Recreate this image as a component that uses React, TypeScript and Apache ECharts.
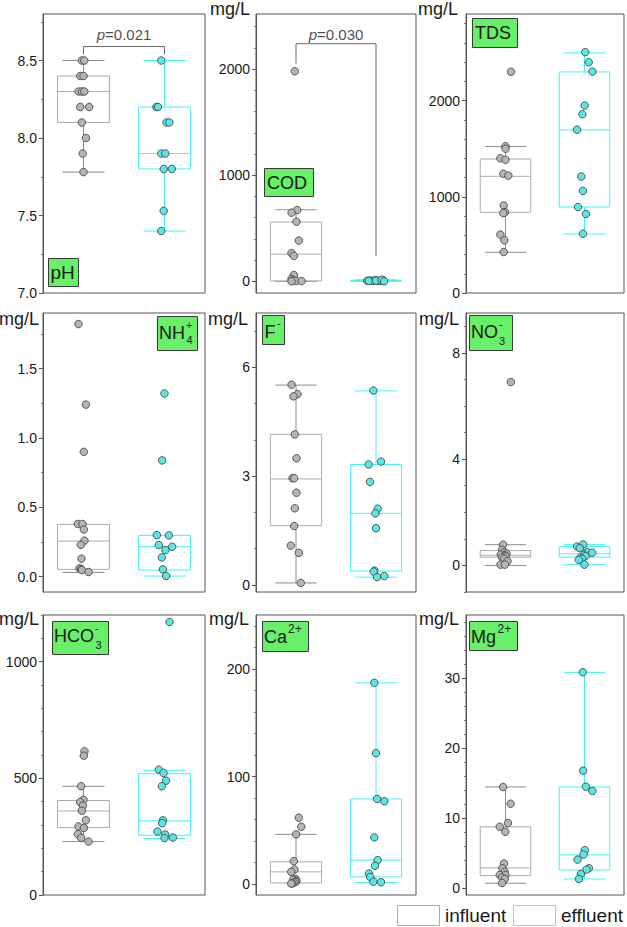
import React, { useEffect, useRef } from 'react';
import * as echarts from 'echarts';

const FONT = '"Liberation Sans", Arial, Helvetica, sans-serif';

// ---------- data ----------
// pH
const phIn = [8.5, 8.5, 8.4, 8.4, 8.3, 8.3, 8.3, 8.2, 8.2, 8.1, 8.0, 7.9, 7.78];
const phInJit = [-0.02, 0.01, -0.04, 0, -0.06, -0.02, 0.01, -0.04, 0.07, -0.02, 0.03, -0.01, 0];
const phEf = [8.5, 8.2, 8.2, 8.1, 8.1, 7.9, 7.9, 7.8, 7.8, 7.53, 7.4];
const phEfJit = [-0.04, -0.1, -0.08, 0.025, 0.06, -0.04, 0.01, -0.01, 0.09, -0.01, -0.04];
const phInBox = [7.78, 8.1, 8.3, 8.4, 8.5];
const phEfBox = [7.4, 7.8, 7.9, 8.2, 8.5];
// COD
const codIn = [1980, 672, 647, 562, 384, 266, 240, 59, 22, 8, 4, 2, 0];
const codInJit = [-0.015, 0.015, -0.056, 0.006, 0.035, -0.056, -0.027, -0.027, -0.056, -0.04, 0.002, 0.07, -0.056];
const codEf = [5, 8, 3, 10, 6, 2, 12, 4, 7, 15, 0];
const codEfJit = [-0.11, -0.07, -0.04, -0.01, 0.02, 0.05, 0.09, -0.09, 0.0, 0.07, 0.1];
const codInBox = [0, 4, 256, 559, 675];
const codEfBox = [0, 3, 6, 10, 15];
// TDS
const tdsIn = [2300, 1525, 1500, 1400, 1385, 1240, 1220, 910, 840, 830, 607, 548, 426];
const tdsInJit = [0.07, 0, 0, -0.065, 0, -0.027, 0.036, -0.023, -0.006, -0.027, -0.065, -0.015, -0.023];
const tdsEf = [2503, 2399, 2302, 1948, 1858, 1698, 1210, 1061, 894, 821, 617];
const tdsEfJit = [0.01, 0.053, 0.1, 0.002, -0.027, -0.095, -0.04, -0.019, -0.082, 0.019, -0.019];
const tdsInBox = [423, 839, 1213, 1393, 1522];
const tdsEfBox = [613, 894, 1695, 2298, 2496];
// NH4+
const nh4In = [1.82, 1.24, 0.9, 0.38, 0.38, 0.34, 0.26, 0.23, 0.13, 0.06, 0.055, 0.048, 0.034];
const nh4InJit = [-0.062, 0.029, 0.004, -0.07, -0.012, 0.004, 0.012, -0.033, -0.025, -0.05, -0.029, -0.02, 0.062];
const nh4Ef = [1.32, 0.838, 0.3, 0.298, 0.228, 0.216, 0.192, 0.139, 0.053, 0.005];
const nh4EfJit = [0, -0.029, -0.095, 0.054, -0.07, 0.095, 0.012, -0.033, -0.02, 0.02];
const nh4InBox = [0.031, 0.053, 0.257, 0.377, 0.377];
const nh4EfBox = [0.005, 0.048, 0.216, 0.298, 0.298];
// F-
const fIn = [5.52, 5.26, 5.2, 4.15, 3.49, 2.94, 2.94, 2.54, 2.11, 1.62, 1.08, 0.88, 0.05];
const fInJit = [-0.056, 0.019, -0.031, -0.015, 0.006, -0.044, -0.023, 0.006, -0.015, -0.023, -0.065, 0.035, 0.06];
const fEf = [5.36, 3.4, 3.32, 2.84, 2.1, 1.97, 1.56, 0.39, 0.36, 0.24, 0.21];
const fEfJit = [-0.033, 0.063, -0.092, -0.075, 0.021, -0.008, 0, -0.021, -0.029, 0.104, 0.013];
const fInBox = [0.05, 1.63, 2.92, 4.15, 5.51];
const fEfBox = [0.21, 0.38, 1.97, 3.32, 5.35];
// NO3-
const no3In = [6.9, 0.78, 0.59, 0.5, 0.45, 0.41, 0.38, 0.34, 0.3, 0.25, 0.16, 0.03, 0.03];
const no3InJit = [0.068, -0.03, -0.042, -0.017, 0.013, -0.059, -0.008, 0, -0.042, -0.017, 0.025, -0.063, -0.008];
const no3Ef = [0.79, 0.71, 0.65, 0.5, 0.48, 0.4, 0.35, 0.3, 0.25, 0.21, 0.03];
const no3EfJit = [-0.017, -0.093, -0.06, 0.034, 0.097, -0.008, 0.013, -0.05, -0.03, -0.072, 0];
const no3InBox = [0, 0.31, 0.38, 0.56, 0.78];
const no3EfBox = [0.03, 0.31, 0.44, 0.71, 0.78];
// HCO3-
const hcoIn = [616, 597, 466, 408, 398, 383, 361, 320, 294, 287, 261, 245, 229];
const hcoInJit = [0.012, 0.004, -0.029, 0, -0.041, -0.008, -0.02, 0.029, -0.062, 0.004, -0.07, -0.029, 0.062];
const hcoEf = [1170, 537, 523, 490, 466, 320, 308, 272, 259, 246, 244];
const hcoEfJit = [0.062, -0.07, -0.012, 0.02, -0.033, -0.02, -0.029, -0.087, 0.008, 0.104, 0];
const hcoInBox = [229, 289, 360, 405, 466];
const hcoEfBox = [242, 256, 318, 520, 534];
// Ca2+
const caIn = [61.8, 53.4, 46.3, 21.4, 13.7, 11.5, 5, 4.3, 3, 2.2, 1.5, 0.8, 0.6];
const caInJit = [0.035, 0.065, 0.002, -0.027, -0.019, -0.06, -0.006, -0.035, 0.006, -0.006, -0.027, -0.048, -0.06];
const caEf = [187, 121.7, 79.2, 77, 43.5, 22.4, 17.1, 9.9, 6.8, 2.2, 1.9];
const caEfJit = [-0.021, 0, 0.013, 0.104, -0.021, 0.021, -0.013, -0.088, -0.071, -0.033, 0.063];
const caInBox = [1.2, 1.2, 11.5, 20.8, 46.3];
const caEfBox = [1.6, 6.8, 22.4, 79.2, 187];
// Mg2+
const mgIn = [14.43, 12.04, 9.27, 8.74, 8.03, 3.49, 2.82, 2.3, 1.86, 1.86, 1.5, 1.29, 0.72];
const mgInJit = [-0.031, 0.065, 0.031, -0.073, -0.002, -0.019, -0.04, -0.01, -0.073, -0.002, -0.044, -0.01, -0.044];
const mgEf = [30.82, 16.77, 14.48, 13.86, 5.4, 4.78, 4.06, 2.82, 2.63, 2.0, 1.29];
const mgEfJit = [-0.021, -0.017, 0.017, 0.1, 0.004, -0.013, -0.088, 0.055, 0.025, -0.046, -0.071];
const mgInBox = [0.67, 1.77, 2.87, 8.74, 14.43];
const mgEfBox = [1.29, 2.58, 4.73, 14.43, 30.8];

// significance brackets
const phBracket = [[0.5, 8.54], [0.5, 8.59], [1.5, 8.59], [1.5, 8.54]];
const phPText = [1.0, 8.665];
const phPValue = '0.021';
const codBracket = [[0.5, 2053], [0.5, 2240], [1.5, 2240], [1.5, 240]];
const codPText = [1.0, 2325];
const codPValue = '0.030';

// axes
const yMin = [7, -110, 0, -0.11, -0.2, -1, 0, -10, -1];
const yMax = [8.8, 2520, 2900, 1.9, 7.5, 9.5, 1200, 250, 39];
const yMajor = [
  [7, 7.5, 8, 8.5],
  [0, 1000, 2000],
  [0, 1000, 2000],
  [0, 0.5, 1, 1.5],
  [0, 3, 6],
  [0, 4, 8],
  [0, 500, 1000],
  [0, 100, 200],
  [0, 10, 20, 30],
];
const yMinorStep = [0.25, 200, 200, 0.25, 1, 1, 100, 20, 2];
const yDecimals = [1, 0, 0, 1, 0, 0, 0, 0, 0];

const influentValues = [phIn, codIn, tdsIn, nh4In, fIn, no3In, hcoIn, caIn, mgIn];
const influentJitter = [phInJit, codInJit, tdsInJit, nh4InJit, fInJit, no3InJit, hcoInJit, caInJit, mgInJit];
const effluentValues = [phEf, codEf, tdsEf, nh4Ef, fEf, no3Ef, hcoEf, caEf, mgEf];
const effluentJitter = [phEfJit, codEfJit, tdsEfJit, nh4EfJit, fEfJit, no3EfJit, hcoEfJit, caEfJit, mgEfJit];
const influentBoxes = [phInBox, codInBox, tdsInBox, nh4InBox, fInBox, no3InBox, hcoInBox, caInBox, mgInBox];
const effluentBoxes = [phEfBox, codEfBox, tdsEfBox, nh4EfBox, fEfBox, no3EfBox, hcoEfBox, caEfBox, mgEfBox];

const legendNames = ['influent', 'effluent'];

// ---------- styling / layout ----------
const COL_LEFT = [43, 256, 466];
const COL_W = [162, 160, 158];
const ROW_TOP = [14, 313, 615];
const ROW_H = [279, 279, 280];
const IN_CENTER = 0.5;
const EF_CENTER = 1.5;
const BOX_HALF = 0.32;
const CAP_HALF = 0.26;

const IN_FILL = '#b5b5b5';
const EF_FILL = '#5ae6e6';
const PT_BORDER = '#4a4a4a';
const IN_BOX = '#ababab';
const IN_WHISK = '#8c8c8c';
const EF_BOX = '#40f4f4';
const FRAME = '#555555';
const GREEN = '#68f068';
const TEXT = '#1a1a1a';

function minorTicks(i: number): number[] {
  const step = yMinorStep[i];
  const out: number[] = [];
  const start = Math.ceil(yMin[i] / step - 1e-9);
  const end = Math.floor(yMax[i] / step + 1e-9);
  for (let k = start; k <= end; k++) {
    const v = +(k * step).toFixed(6);
    if (!yMajor[i].some((m) => Math.abs(m - v) < 1e-9)) out.push(v);
  }
  return out;
}

function renderBox(params: any, api: any) {
  const x = api.value(0);
  const lo = api.value(1);
  const q1 = api.value(2);
  const md = api.value(3);
  const q3 = api.value(4);
  const hi = api.value(5);
  const kind = api.value(6);
  const boxColor = kind === 0 ? IN_BOX : EF_BOX;
  const whColor = kind === 0 ? IN_WHISK : EF_BOX;
  const c = (xx: number, yy: number) => api.coord([xx, yy]);
  const line = (a: number[], b: number[], color: string) => ({
    type: 'line',
    shape: { x1: a[0], y1: a[1], x2: b[0], y2: b[1] },
    style: { stroke: color, lineWidth: 1 },
  });
  const children: any[] = [];
  if (hi > q3) {
    children.push(line(c(x, hi), c(x, q3), whColor));
    children.push(line(c(x - CAP_HALF, hi), c(x + CAP_HALF, hi), whColor));
  }
  if (lo < q1) {
    children.push(line(c(x, q1), c(x, lo), whColor));
    children.push(line(c(x - CAP_HALF, lo), c(x + CAP_HALF, lo), whColor));
  }
  const tl = c(x - BOX_HALF, q3);
  const br = c(x + BOX_HALF, q1);
  children.push({
    type: 'rect',
    shape: { x: tl[0], y: tl[1], width: br[0] - tl[0], height: Math.max(br[1] - tl[1], 0.5) },
    style: { fill: 'none', stroke: boxColor, lineWidth: 1 },
  });
  children.push(line(c(x - BOX_HALF, md), c(x + BOX_HALF, md), boxColor));
  return { type: 'group', children };
}

function txt(text: string, x: number, y: number, size: number, align = 'left', extra: any = {}) {
  return {
    type: 'text',
    x,
    y,
    silent: true,
    style: {
      text,
      fill: TEXT,
      font: `${size}px ${FONT}`,
      fontSize: size,
      fontFamily: FONT,
      align,
      textAlign: align,
      verticalAlign: 'middle',
      textVerticalAlign: 'middle',
      ...extra,
    },
  };
}

const titleSpecs: { box: number[]; parts: [string, number, number, number][] }[] = [
  { box: [48, 258, 30, 28], parts: [['pH', 50.5, 272.5, 19]] },
  { box: [264, 168, 49, 28], parts: [['COD', 267, 182.5, 18]] },
  { box: [472, 18, 45, 29], parts: [['TDS', 475, 33, 18]] },
  { box: [157, 316, 40, 34], parts: [['NH', 159, 333, 18], ['+', 186, 324.5, 11], ['4', 186.5, 340, 11]] },
  { box: [262, 315, 22, 29], parts: [['F', 264.5, 331.5, 18], ['-', 277, 322.5, 11]] },
  { box: [469, 315, 43, 35], parts: [['NO', 471, 332, 18], ['-', 499, 323.5, 11], ['3', 499, 341, 11]] },
  { box: [52, 621, 56, 33], parts: [['HCO', 54, 636, 18], ['-', 95, 627.5, 11], ['3', 95.5, 645, 11]] },
  { box: [262, 621, 46, 30], parts: [['Ca', 264, 637, 18], ['2+', 288, 628.5, 12]] },
  { box: [469, 621, 48, 29], parts: [['Mg', 471, 636.5, 18], ['2+', 497.5, 628.5, 12]] },
];

const unitSpecs: [number, number][] = [
  [210, 9], [418, 9],
  [-1, 319], [208, 319], [419, 319],
  [-1, 619], [209, 619], [419, 619],
];

function buildOption() {
  const grid: any[] = [];
  const xAxis: any[] = [];
  const yAxis: any[] = [];
  const series: any[] = [];
  for (let i = 0; i < 9; i++) {
    const r = Math.floor(i / 3);
    const cI = i % 3;
    grid.push({
      left: COL_LEFT[cI], top: ROW_TOP[r], width: COL_W[cI], height: ROW_H[r],
      show: true, borderColor: FRAME, borderWidth: 1, backgroundColor: 'transparent',
    });
    xAxis.push({ type: 'value', gridIndex: i, min: 0, max: 2, show: false });
    const dec = yDecimals[i];
    yAxis.push({
      type: 'value', gridIndex: i, min: yMin[i], max: yMax[i], position: 'left', offset: 0,
      axisLine: { show: true, lineStyle: { color: FRAME, width: 1 } },
      axisTick: { show: true, inside: false, length: 4, customValues: yMajor[i], lineStyle: { color: FRAME } },
      axisLabel: {
        show: true, customValues: yMajor[i], margin: 6, fontSize: 14, fontFamily: FONT, color: TEXT,
        formatter: (v: number) => Number(v).toFixed(dec),
      },
      splitLine: { show: false },
    });
    yAxis.push({
      type: 'value', gridIndex: i, min: yMin[i], max: yMax[i], position: 'left', offset: 0,
      axisLine: { show: false },
      axisTick: { show: true, inside: false, length: 2, customValues: minorTicks(i), lineStyle: { color: '#777' } },
      axisLabel: { show: false },
      splitLine: { show: false },
    });
    const yi = 2 * i;
    series.push({
      type: 'custom', xAxisIndex: i, yAxisIndex: yi, renderItem: renderBox, silent: true, z: 2, clip: false,
      encode: { x: 0, y: [1, 2, 3, 4, 5] },
      data: [
        [IN_CENTER, ...influentBoxes[i], 0],
        [EF_CENTER, ...effluentBoxes[i], 1],
      ],
    });
    series.push({
      type: 'scatter', name: legendNames[0], xAxisIndex: i, yAxisIndex: yi, z: 3, silent: true,
      symbolSize: 7.5,
      itemStyle: { color: IN_FILL, borderColor: PT_BORDER, borderWidth: 0.9, opacity: 1 },
      data: influentValues[i].map((v, k) => [IN_CENTER + influentJitter[i][k], v]),
    });
    series.push({
      type: 'scatter', name: legendNames[1], xAxisIndex: i, yAxisIndex: yi, z: 3, silent: true,
      symbolSize: 7.5,
      itemStyle: { color: EF_FILL, borderColor: PT_BORDER, borderWidth: 0.9, opacity: 1 },
      data: effluentValues[i].map((v, k) => [EF_CENTER + effluentJitter[i][k], v]),
    });
  }
  const brackets: [number, number[][], number[], string][] = [
    [0, phBracket, phPText, phPValue],
    [1, codBracket, codPText, codPValue],
  ];
  brackets.forEach(([i, pts, tpos, pv]) => {
    series.push({
      type: 'line', xAxisIndex: i, yAxisIndex: 2 * i, data: pts, symbol: 'none', silent: true, z: 2,
      lineStyle: { color: '#666', width: 1 },
    });
    series.push({
      type: 'scatter', xAxisIndex: i, yAxisIndex: 2 * i, data: [tpos], symbolSize: 1, silent: true, z: 4,
      itemStyle: { color: 'transparent' },
      label: {
        show: true, position: 'inside', formatter: `{i|p}{n|=${pv}}`,
        rich: {
          i: { fontStyle: 'italic', fontSize: 15, fontFamily: FONT, color: TEXT },
          n: { fontSize: 15, fontFamily: FONT, color: TEXT },
        },
      },
    });
  });

  const graphic: any[] = [];
  titleSpecs.forEach((s) => {
    const [bx, by, bw, bh] = s.box;
    graphic.push({
      type: 'rect', silent: true, shape: { x: bx + 0.5, y: by + 0.5, width: bw, height: bh },
      style: { fill: GREEN, stroke: '#3a3a3a', lineWidth: 1 }, z: 10,
    });
    s.parts.forEach(([t, x, y, size]) => graphic.push({ ...txt(t, x, y, size), z: 11 }));
  });
  unitSpecs.forEach(([x, y]) => graphic.push(txt('mg/L', x, y, 18)));
  // legend
  graphic.push({
    type: 'rect', silent: true, shape: { x: 397.5, y: 905.5, width: 42, height: 20 },
    style: { fill: '#fff', stroke: IN_BOX, lineWidth: 1 },
  });
  graphic.push(txt(legendNames[0], 445, 915.5, 19));
  graphic.push({
    type: 'rect', silent: true, shape: { x: 513.5, y: 905.5, width: 42, height: 20 },
    style: { fill: '#fff', stroke: EF_BOX, lineWidth: 1 },
  });
  graphic.push(txt(legendNames[1], 561, 915.5, 19));

  return {
    animation: false,
    backgroundColor: '#ffffff',
    grid, xAxis, yAxis, series, graphic,
  };
}

export default function App() {
  const ref = useRef<HTMLDivElement>(null);
  useEffect(() => {
    document.body.style.margin = '0';
    if (!ref.current) return;
    const chart = echarts.init(ref.current, undefined, { renderer: 'svg' });
    chart.setOption(buildOption() as any);
    return () => chart.dispose();
  }, []);
  return <div ref={ref} style={{ width: 627, height: 927 }} />;
}
